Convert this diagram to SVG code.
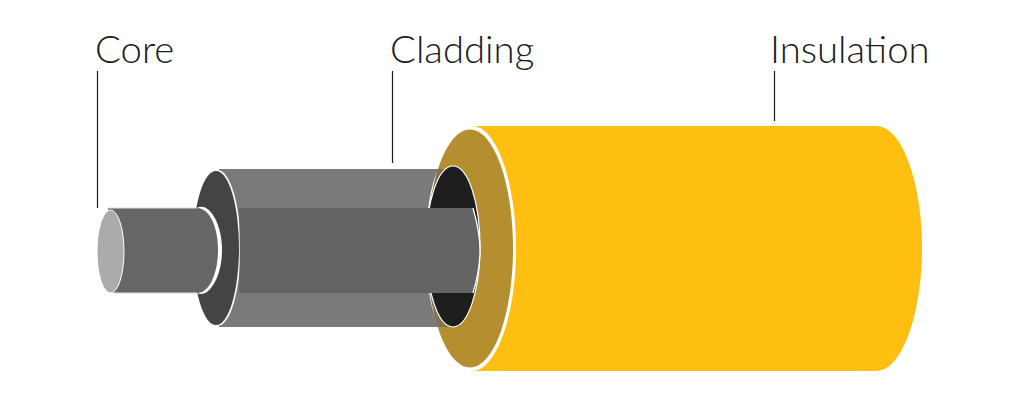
<svg xmlns="http://www.w3.org/2000/svg" width="1020" height="400" viewBox="0 0 1020 400">
<style>
.lbl{font-family:"Lato","Open Sans",sans-serif;font-weight:300;font-size:38.300px;fill:#1c1c1c}
.lead{stroke:#1a1a1a;stroke-width:1.2;fill:none}
</style>
<defs>
<clipPath id="ring"><ellipse cx="470" cy="248.500" rx="43" ry="119"/></clipPath>
</defs>
<rect width="1020" height="400" fill="#fff"/>
<g id="insulation">
<path d="M471 126H876C903 126 922 185 922 248C922 311 903 371 876 371H471Z" fill="#ffbf10"/>
<ellipse cx="472" cy="248.500" rx="44" ry="122.500" fill="#fff"/>
<ellipse cx="470" cy="248.500" rx="43" ry="119" fill="#b58e2f"/>
<rect x="420" y="169" width="40" height="158" fill="#5f5f5f" opacity=".6" clip-path="url(#ring)"/>
<ellipse cx="453" cy="246.500" rx="27" ry="80.500" fill="#1e1e1e" stroke="#fff" stroke-width="1.200"/>
</g>
<g id="cladding">
<path d="M219 169H438.400C433 180 429.500 195 427.500 215C426.500 235 426.500 262 427.500 282C429.500 300 434 316 439 327H219Z" fill="#7a7a7a"/>
<ellipse cx="217.500" cy="248" rx="23" ry="78" fill="#fff"/>
<ellipse cx="216" cy="248" rx="23" ry="77" fill="#444"/>
<path d="M239 208H473C477 222 480 235 480 250C480 266 477 280 473 293H239C240 265 240 236 239 208Z" fill="#646464"/>
<path d="M473 208C477 222 480 235 480 250C480 266 477 280 473 293" fill="none" stroke="#fff" stroke-width="1.300"/>
</g>
<g id="core">
<path d="M197 208C208 201 222 222 222 250C222 278 208 299 197 293Z" fill="#fff"/>
<path d="M108 208H197C210 208 218 228 218 250C218 272 210 293 197 293H112Z" fill="#666"/>
<path d="M108 208H197M112 293H197" stroke="#ddd" stroke-width="1" fill="none"/>
<ellipse cx="110.500" cy="251.500" rx="13.500" ry="41.500" fill="#ababab" stroke="#fff" stroke-width="1"/>
</g>
<g id="connectors">
<path class="lead" d="M97.500 71V208"/>
<path class="lead" d="M392.500 71V163"/>
<path class="lead" d="M774.500 71V121"/>
</g>
<g id="labels">
<text class="lbl" x="95" y="63">Core</text>
<text class="lbl" x="390" y="63">Cladding</text>
<text class="lbl" x="770" y="63">Insulation</text>
</g>
</svg>
